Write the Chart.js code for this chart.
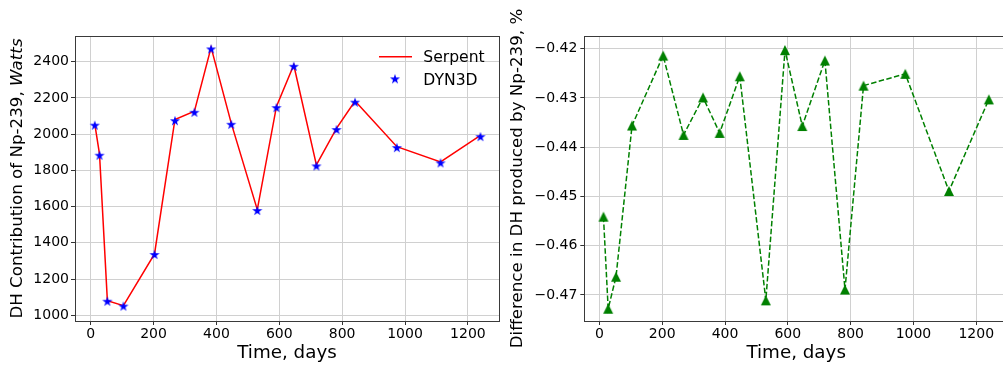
<!DOCTYPE html>
<html><head><meta charset="utf-8">
<script src="https://cdn.jsdelivr.net/npm/chart.js@4/dist/chart.umd.min.js"></script>
<style>
html,body{margin:0;padding:0;background:#fff;overflow:hidden;width:1003px;height:367px;}
#c1{position:absolute;left:0;top:0;}
#c2{position:absolute;left:505px;top:0;}
</style></head><body>
<canvas id="c1" width="505" height="367"></canvas>
<canvas id="c2" width="510" height="367"></canvas>
<script>
// ---- data ----
const days = [13, 28, 53, 104, 203, 268, 330, 383, 447, 530, 591, 646, 718, 782, 841, 974, 1113, 1240];
const serpentDH = [2056, 1890, 1080, 1053, 1339, 2081, 2127, 2479, 2061, 1583, 2153, 2382, 1830, 2032, 2183, 1931, 1847, 1993];
const dyn3dDH   = [2047, 1881, 1075, 1048, 1333, 2072, 2118, 2468, 2052, 1576, 2144, 2372, 1822, 2023, 2174, 1923, 1839, 1984];
const diffPct   = [-0.4541, -0.4728, -0.4663, -0.4356, -0.4214, -0.4375, -0.4299, -0.4371, -0.4256, -0.4711, -0.4203, -0.4357, -0.4224, -0.4689, -0.4275, -0.4251, -0.4489, -0.4303];
const xTicks = [0, 200, 400, 600, 800, 1000, 1200];
const leftYTicks = [1000, 1200, 1400, 1600, 1800, 2000, 2200, 2400];
const rightYTicks = [-0.47, -0.46, -0.45, -0.44, -0.43, -0.42];
const seriesLabels = ['Serpent', 'DYN3D'];
const xTitle = 'Time, days';
const leftYTitle = ['DH Contribution of Np-239, ', 'Watts'];
const rightYTitle = 'Difference in DH produced by Np-239, %';

// ---- styles ----
const FAM = "'DejaVu Sans', sans-serif";
Chart.defaults.color = '#000';
Chart.defaults.font.family = FAM;

function starImage(color, R) {
  const s = 2 * Math.ceil(R + 1);
  const c = document.createElement('canvas'); c.width = c.height = s;
  const g = c.getContext('2d');
  g.translate(s / 2, s / 2);
  g.beginPath();
  const r = R * 0.381966;
  for (let i = 0; i < 10; i++) {
    const rad = (i % 2 === 0) ? R : r;
    const a = -Math.PI / 2 + i * Math.PI / 5;
    const px = rad * Math.cos(a), py = rad * Math.sin(a);
    i === 0 ? g.moveTo(px, py) : g.lineTo(px, py);
  }
  g.closePath(); g.fillStyle = color; g.fill();
  return c;
}
function triImage(color, h) {
  const s = 2 * Math.ceil(h + 1);
  const c = document.createElement('canvas'); c.width = c.height = s;
  const g = c.getContext('2d');
  g.translate(s / 2, s / 2);
  g.beginPath(); g.moveTo(0, -h); g.lineTo(-h, h); g.lineTo(h, h); g.closePath();
  g.fillStyle = color; g.fill();
  return c;
}
const starImg = starImage('#0000ff', 5.3);
const triImg = triImage('#008000', 5);

const framePlugin = {
  id: 'frame',
  afterDraw(chart) {
    const {ctx, chartArea: a} = chart;
    ctx.save();
    ctx.strokeStyle = '#3a3a3a'; ctx.lineWidth = 1;
    const l = Math.floor(a.left) + 0.5, t = Math.floor(a.top) + 0.5;
    const r = Math.floor(a.right) + 0.5, b = Math.floor(a.bottom) + 0.5;
    ctx.strokeRect(l, t, r - l, b - t);
    ctx.restore();
  }
};
const yTitlePlugin = {
  id: 'ytitle',
  afterDraw(chart, args, o) {
    if (!o.parts) return;
    const {ctx, chartArea: a} = chart;
    ctx.save();
    ctx.translate(o.x, (a.top + a.bottom) / 2);
    ctx.rotate(-Math.PI / 2);
    ctx.textBaseline = 'middle'; ctx.textAlign = 'left'; ctx.fillStyle = '#000';
    const w = o.parts.map(p => { ctx.font = p.font; return ctx.measureText(p.text).width; });
    let x = -w.reduce((s, v) => s + v, 0) / 2;
    o.parts.forEach((p, i) => { ctx.font = p.font; ctx.fillText(p.text, x, 0); x += w[i]; });
    ctx.restore();
  }
};
const legendPlugin = {
  id: 'mplLegend',
  afterDraw(chart, args, o) {
    if (!o.show) return;
    const {ctx, chartArea: a} = chart;
    const ds = chart.data.datasets;
    ctx.save();
    ctx.font = '15.6px ' + FAM; ctx.fillStyle = '#000';
    ctx.textAlign = 'left'; ctx.textBaseline = 'alphabetic';
    const line = ds.find(d => d.showLine);
    ctx.strokeStyle = line.borderColor; ctx.lineWidth = line.borderWidth;
    ctx.beginPath(); ctx.moveTo(a.right - 120, a.top + 20.7); ctx.lineTo(a.right - 87, a.top + 20.7); ctx.stroke();
    ctx.fillText(line.label, a.right - 75.7, a.top + 25.5);
    const mk = ds.find(d => !d.showLine);
    const im = mk.pointStyle;
    ctx.drawImage(im, a.right - 104 - im.width / 2, a.top + 43.3 - im.height / 2);
    ctx.fillText(mk.label, a.right - 75.7, a.top + 48.8);
    ctx.restore();
  }
};

function gridCfg() {
  return {color: '#d0d0d0', lineWidth: 1, tickColor: '#333', tickLength: 4, tickWidth: 1};
}
function xScale(min, max, h) {
  return {
    type: 'linear', min, max,
    afterBuildTicks: s => { s.ticks = xTicks.map(v => ({value: v})); },
    afterFit: s => { s.height = h; },
    grid: gridCfg(), border: {display: false},
    ticks: {font: {family: FAM, size: 14}, color: '#000', padding: 1, maxRotation: 0, autoSkip: false,
      callback: v => String(v)},
    title: {display: true, text: xTitle, color: '#000', font: {family: FAM, size: 18.3}, padding: {top: 0, bottom: 3}}
  };
}

// ---- left chart ----
new Chart(document.getElementById('c1'), {
  type: 'scatter',
  data: {
    datasets: [
      {label: seriesLabels[0], data: days.map((d, i) => ({x: d, y: serpentDH[i]})), showLine: true,
       borderColor: '#ff0000', borderWidth: 1.5, pointRadius: 0, order: 2},
      {label: seriesLabels[1], data: days.map((d, i) => ({x: d, y: dyn3dDH[i]})), showLine: false,
       pointStyle: starImg, pointRadius: 5, backgroundColor: '#0000ff', borderColor: '#0000ff', order: 1}
    ]
  },
  options: {
    responsive: false, animation: false, devicePixelRatio: 1,
    layout: {padding: {left: 0, right: 6, top: 36, bottom: 0}},
    plugins: {legend: {display: false}, tooltip: {enabled: false},
      ytitle: {x: 17.4, parts: [{text: leftYTitle[0], font: '16.7px ' + FAM}, {text: leftYTitle[1], font: 'italic 16.7px ' + FAM}]},
      mplLegend: {show: true}},
    scales: {
      x: xScale(-50, 1299, 46),
      y: {
        type: 'linear', min: 968.5, max: 2542,
        afterBuildTicks: s => { s.ticks = leftYTicks.map(v => ({value: v})); },
        afterFit: s => { s.width = 75; },
        grid: gridCfg(), border: {display: false},
        ticks: {font: {family: FAM, size: 14}, color: '#000', padding: 2, callback: v => String(v)},
        title: {display: false}
      }
    }
  },
  plugins: [framePlugin, yTitlePlugin, legendPlugin]
});

// ---- right chart ----
new Chart(document.getElementById('c2'), {
  type: 'scatter',
  data: {
    datasets: [
      {label: 'diff', data: days.map((d, i) => ({x: d, y: diffPct[i]})), showLine: true,
       borderColor: '#008000', borderWidth: 1.5, borderDash: [5.5, 2.4],
       pointStyle: triImg, pointRadius: 5, backgroundColor: '#008000'}
    ]
  },
  options: {
    responsive: false, animation: false, devicePixelRatio: 1,
    layout: {padding: {left: 0, right: 7, top: 36, bottom: 0}},
    plugins: {legend: {display: false}, tooltip: {enabled: false},
      ytitle: {x: 13, parts: [{text: rightYTitle, font: '16.7px ' + FAM}]},
      mplLegend: {show: false}},
    scales: {
      x: xScale(-48, 1301, 46),
      y: {
        type: 'linear', min: -0.47529, max: -0.41742,
        afterBuildTicks: s => { s.ticks = rightYTicks.map(v => ({value: v})); },
        afterFit: s => { s.width = 79.3; },
        grid: gridCfg(), border: {display: false},
        ticks: {font: {family: FAM, size: 14}, color: '#000', padding: 3,
          callback: v => (v < 0 ? '\u2212' : '') + Math.abs(v).toFixed(2)},
        title: {display: false}
      }
    }
  },
  plugins: [framePlugin, yTitlePlugin]
});
</script>
</body></html>
